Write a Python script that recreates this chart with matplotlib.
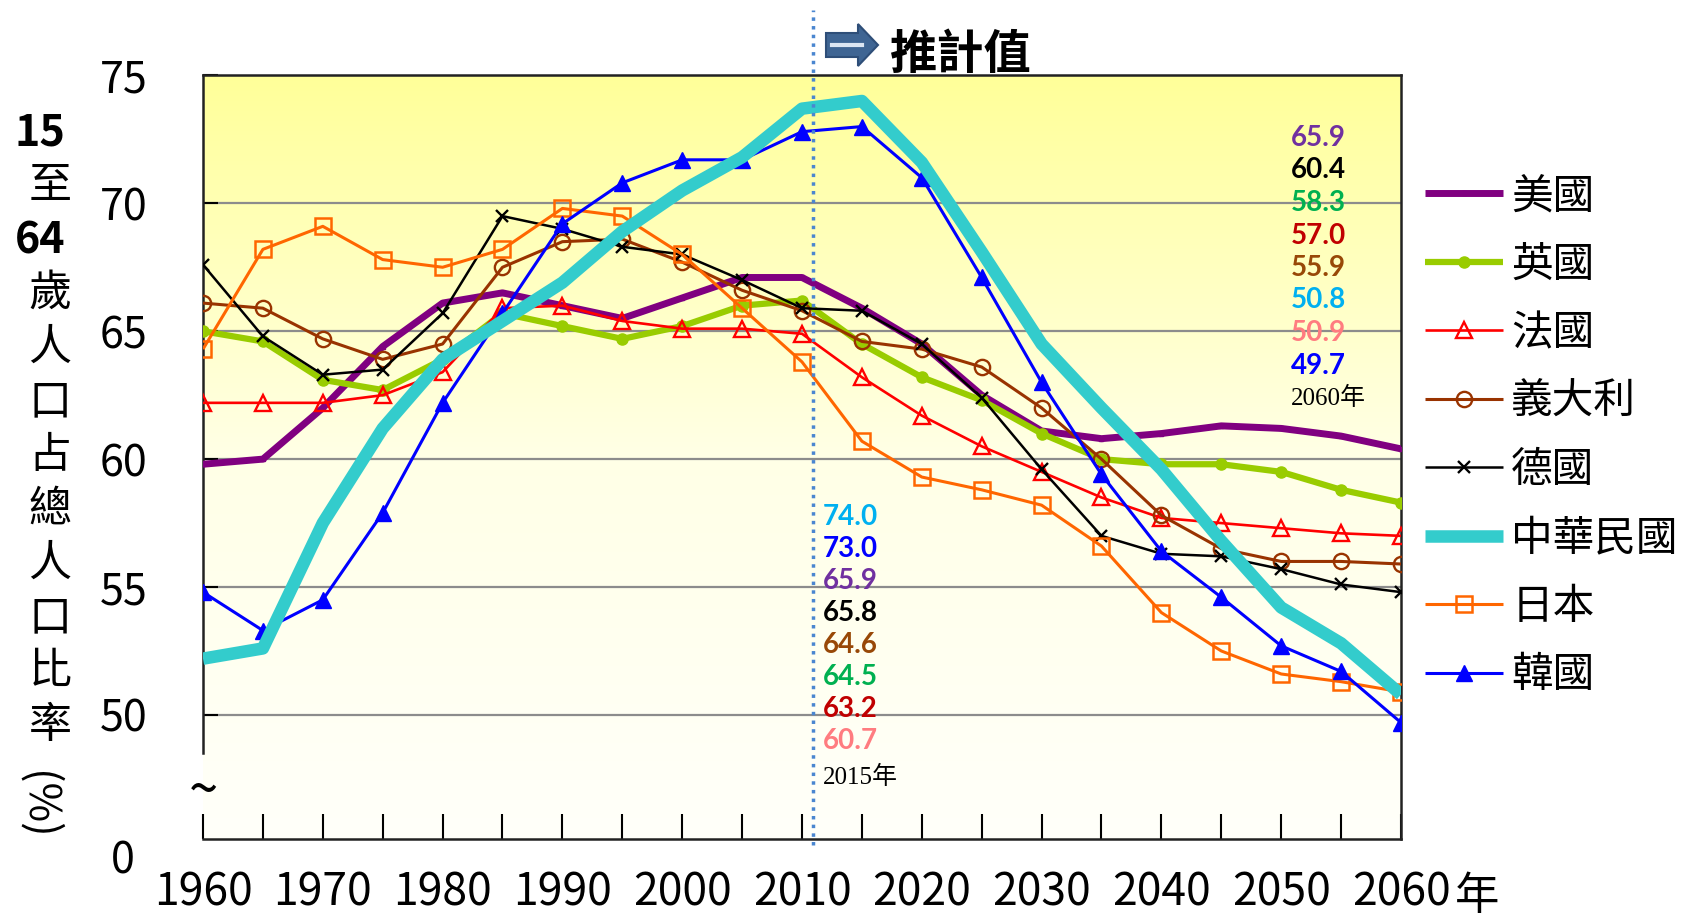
import matplotlib
matplotlib.use('Agg')
import matplotlib.pyplot as plt
import numpy as np
from matplotlib.colors import LinearSegmentedColormap
from matplotlib.patches import FancyArrow
from matplotlib.lines import Line2D

plt.rcParams['font.family'] = ['Noto Sans CJK TC', 'DejaVu Sans']

# 15-64 share of total population (%), every 5 years
years = list(range(1960, 2061, 5))
usa = [59.8, 60.0, 62.0, 64.4, 66.1, 66.5, 66.0, 65.5, 66.3, 67.1, 67.1, 65.9, 64.5, 62.5, 61.1, 60.8, 61.0, 61.3, 61.2, 60.9, 60.4]
uk = [65.0, 64.6, 63.1, 62.7, 63.9, 65.7, 65.2, 64.7, 65.2, 66.0, 66.2, 64.5, 63.2, 62.3, 61.0, 60.0, 59.8, 59.8, 59.5, 58.8, 58.3]
france = [62.2, 62.2, 62.2, 62.5, 63.4, 65.9, 66.0, 65.4, 65.1, 65.1, 64.9, 63.2, 61.7, 60.5, 59.5, 58.5, 57.7, 57.5, 57.3, 57.1, 57.0]
italy = [66.1, 65.9, 64.7, 63.9, 64.5, 67.5, 68.5, 68.6, 67.7, 66.6, 65.8, 64.6, 64.3, 63.6, 62.0, 60.0, 57.8, 56.5, 56.0, 56.0, 55.9]
germany = [67.6, 64.8, 63.3, 63.5, 65.7, 69.5, 69.0, 68.3, 68.0, 67.0, 65.9, 65.8, 64.5, 62.4, 59.6, 57.0, 56.3, 56.2, 55.7, 55.1, 54.8]
taiwan = [52.2, 52.6, 57.5, 61.2, 63.9, 65.4, 66.9, 68.9, 70.5, 71.8, 73.7, 74.0, 71.6, 68.1, 64.5, 62.0, 59.6, 56.8, 54.2, 52.8, 50.8]
japan = [64.3, 68.2, 69.1, 67.8, 67.5, 68.2, 69.8, 69.5, 68.0, 65.9, 63.8, 60.7, 59.3, 58.8, 58.2, 56.6, 54.0, 52.5, 51.6, 51.3, 50.9]
korea = [54.8, 53.3, 54.5, 57.9, 62.2, 65.7, 69.2, 70.8, 71.7, 71.7, 72.8, 73.0, 71.0, 67.1, 63.0, 59.4, 56.4, 54.6, 52.7, 51.7, 49.7]

countries = ['美國', '英國', '法國', '義大利', '德國', '中華民國', '日本', '韓國']

labels_2015 = ['74.0', '73.0', '65.9', '65.8', '64.6', '64.5', '63.2', '60.7']
colors_2015 = ['#00B0F0', '#0000FF', '#7030A0', '#000000', '#984807', '#00B050', '#C00000', '#FF7C80']
labels_2060 = ['65.9', '60.4', '58.3', '57.0', '55.9', '50.8', '50.9', '49.7']
colors_2060 = ['#7030A0', '#000000', '#00B050', '#C00000', '#984807', '#00B0F0', '#FF7C80', '#0000FF']

ytick_vals = [50, 55, 60, 65, 70, 75]
ylab_chars = ['15', '至', '64', '歲', '人', '口', '占', '總', '人', '口', '比', '率']

W, H = 1683, 917
fig = plt.figure(figsize=(W / 100, H / 100), dpi=100)
ax = fig.add_axes([203 / W, 1 - 839 / H, (1401 - 203) / W, (839 - 75.4) / H])

# yellow gradient background
cmap = LinearSegmentedColormap.from_list('bg', ['#FFFFFA', '#FFFFE6', '#FFFF99'])
grad = np.linspace(0, 1, 256).reshape(-1, 1)
ax.imshow(grad, extent=[1960, 2060, 45.15, 75], aspect='auto', cmap=cmap, origin='lower', zorder=0)

series = [usa, uk, france, italy, germany, taiwan, japan, korea]
styles = [
    dict(color='#800080', lw=5, marker='s', ms=3.5, zorder=3),
    dict(color='#99CC00', lw=4.5, marker='o', ms=8, zorder=3),
    dict(color='#FF0000', lw=1.9, marker='^', ms=11, mfc='none', mew=1.7, zorder=4),
    dict(color='#993300', lw=2.2, marker='o', ms=11, mfc='none', mew=1.7, zorder=4),
    dict(color='#000000', lw=1.8, marker='x', ms=9, mew=1.7, zorder=4),
    dict(color='#33CCCC', lw=9, zorder=6),
    dict(color='#FF6600', lw=2.2, marker='s', ms=11, mfc='none', mew=1.8, zorder=4),
    dict(color='#0000FF', lw=2.2, marker='^', ms=11, zorder=5),
]
handles = []
for vals, st, name in zip(series, styles, countries):
    h, = ax.plot(years, vals, label=name, solid_capstyle='butt', **st)
    handles.append(h)

ax.set_xlim(1960, 2060)
ax.set_ylim(45.15, 75)
ax.set_yticks(ytick_vals)
ax.yaxis.grid(True, color='#8C8C8C', lw=1.6, zorder=1)
ax.set_axisbelow(True)
ax.tick_params(axis='y', direction='in', length=11, width=1.5, pad=40, labelsize=31)

ax.set_xticks(years)
ax.set_xticklabels([str(y) if y % 10 == 0 else '' for y in years])
ax.tick_params(axis='x', direction='in', length=18, width=1.5, pad=22, labelsize=32)

for s in ax.spines.values():
    s.set_linewidth(1.8)
    s.set_color('#222222')
ax.spines['left'].set_bounds(48.5, 75)

ax.text(1960, 47.0, '~', ha='center', va='center', fontsize=38, clip_on=False)
fig.text(135 / W, 1 - 862 / H, '0', ha='right', va='center', fontsize=31)
fig.text(1455 / W, 1 - 896 / H, '年', ha='left', va='center', fontsize=32)

# projection divider
ax.axvline(2010.9, ymin=-0.008, ymax=1.086, color='#4A86D0', ls=(0, (1, 1.5)), lw=2.5, clip_on=False, zorder=7)

arrow = FancyArrow(8.26, (917 - 45) / 100, 0.32, 0, width=0.24, head_width=0.42, head_length=0.2,
                   transform=fig.dpi_scale_trans, fc='#3F6593', ec='#2E4E78', lw=1.5)
fig.add_artist(arrow)
fig.add_artist(Line2D([8.32, 8.62], [(917 - 45) / 100] * 2, color='#DCE6F2', lw=3,
                      transform=fig.dpi_scale_trans))
fig.text(890 / W, 1 - 55 / H, '推計值', fontsize=34, fontweight='bold', ha='left', va='center')

# y axis title, stacked vertically
for i, ch in enumerate(ylab_chars):
    y = 132 + i * 54
    if ch.isdigit():
        fig.text(40 / W, 1 - y / H, ch, ha='center', va='center', fontsize=31, fontweight='bold')
    else:
        fig.text(50 / W, 1 - y / H, ch, ha='center', va='center', fontsize=31)
fig.text(37 / W, 1 - 805 / H, '(%)', rotation=-90, ha='center', va='center', fontsize=31)

# value annotations
for i, (t, c) in enumerate(zip(labels_2015, colors_2015)):
    fig.text(823 / W, 1 - (517 + i * 32) / H, t, color=c, fontsize=20, fontweight='bold',
             family='Lato', ha='left', va='center')
fig.text(823 / W, 1 - 777 / H, '2015年', fontsize=18, family=['Liberation Serif', 'Noto Sans CJK TC'],
         ha='left', va='center')
for i, (t, c) in enumerate(zip(labels_2060, colors_2060)):
    fig.text(1291 / W, 1 - (138 + i * 32.5) / H, t, color=c, fontsize=20, fontweight='bold',
             family='Lato', ha='left', va='center')
fig.text(1291 / W, 1 - 398 / H, '2060年', fontsize=18, family=['Liberation Serif', 'Noto Sans CJK TC'],
         ha='left', va='center')

fig.legend(handles, countries, loc='upper left', bbox_to_anchor=(1425 / W, 1 - 176 / H),
           frameon=False, fontsize=30, handlelength=1.87, handletextpad=0.2,
           labelspacing=0.66, borderpad=0, borderaxespad=0)

fig.savefig('out.png', dpi=100)
